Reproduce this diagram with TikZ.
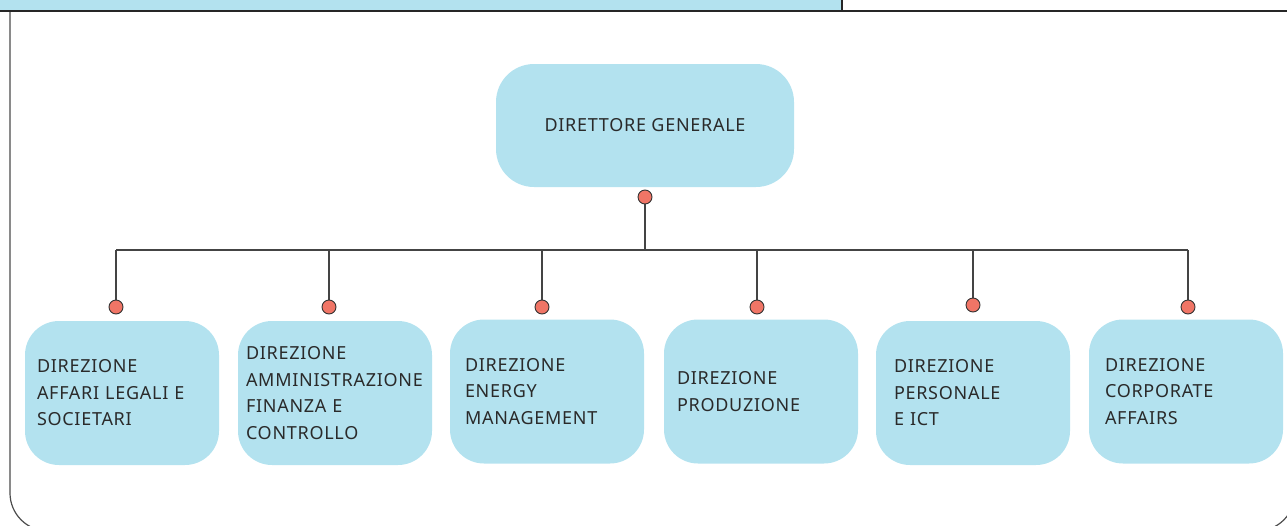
\documentclass[tikz,border=0pt]{standalone}
\usepackage{fontspec}
\setmainfont{Noto Sans}[LetterSpace=4]
\usetikzlibrary{backgrounds}
\definecolor{boxblue}{HTML}{B3E2EF}
\definecolor{dotred}{HTML}{F07566}
\definecolor{txt}{HTML}{2A2A2A}
\definecolor{linec}{HTML}{444444}
\tikzset{
  box/.style={fill=boxblue, draw=none, rounded corners=34pt, minimum width=194pt,
    minimum height=144pt, align=left, inner xsep=#1, inner ysep=0pt, text=txt,
    font=\fontsize{18}{26.5}\selectfont},
  topbox/.style={fill=boxblue, draw=none, rounded corners=38pt, minimum width=298pt,
    minimum height=123pt, align=center, text=txt, font=\fontsize{18}{26.5}\selectfont},
  dot/.style={circle, fill=dotred, draw=black!80, line width=0.9pt, minimum size=14pt, inner sep=0pt},
  conn/.style={draw=linec, line width=1.2pt},
  frame/.style={draw=black!70, line width=1.2pt}
}
\begin{document}
\begin{tikzpicture}[x=1pt,y=-1pt]
\useasboundingbox (0,0) rectangle (1287,525);
\clip (0,0) rectangle (1287,525);
% header band and frame
\fill[boxblue] (0,-5) rectangle (842,11);
\draw[black!85, line width=1.2pt] (842,-5) -- (842,11);
\draw[frame, rounded corners=38pt] (10,11) -- (10,531) -- (1295,531) -- (1295,11);
\draw[black!85, line width=1.6pt] (0,11) -- (1287,11);
% nodes
\node[topbox] (dg) at (645,125.5) {DIRETTORE GENERALE};
\node[box=12pt, text width=170pt] (c1) at (122,393) {DIREZIONE\\AFFARI LEGALI E\\SOCIETARI};
\node[box=8pt, text width=178pt] (c2) at (335,393) {DIREZIONE\\AMMINISTRAZIONE\\FINANZA E\\CONTROLLO};
\node[box=15pt, text width=164pt] (c3) at (547,391.5) {DIREZIONE\\ENERGY\\MANAGEMENT};
\node[box=13pt, text width=168pt] (c4) at (761,391.5) {DIREZIONE\\PRODUZIONE};
\node[box=18pt, text width=158pt] (c5) at (973,393) {DIREZIONE\\PERSONALE\\E ICT};
\node[box=16pt, text width=162pt] (c6) at (1186,391.5) {DIREZIONE\\CORPORATE\\AFFAIRS};
% dots
\node[dot] (d0) at (645,197) {};
\node[dot] (d1) at (116,307) {};
\node[dot] (d2) at (329,307) {};
\node[dot] (d3) at (542,307) {};
\node[dot] (d4) at (757,307) {};
\node[dot] (d5) at (973,305) {};
\node[dot] (d6) at (1188,307) {};
\coordinate (busL) at (116,250);
\coordinate (busR) at (1188,250);
\begin{scope}[on background layer]
\draw[conn] (busL) -- (busR);
\draw[conn] (d0.center) -- (d0 |- busL);
\foreach \i in {1,...,6} {\draw[conn] (d\i.center) -- (d\i |- busL);}
\end{scope}
\end{tikzpicture}
\end{document}
